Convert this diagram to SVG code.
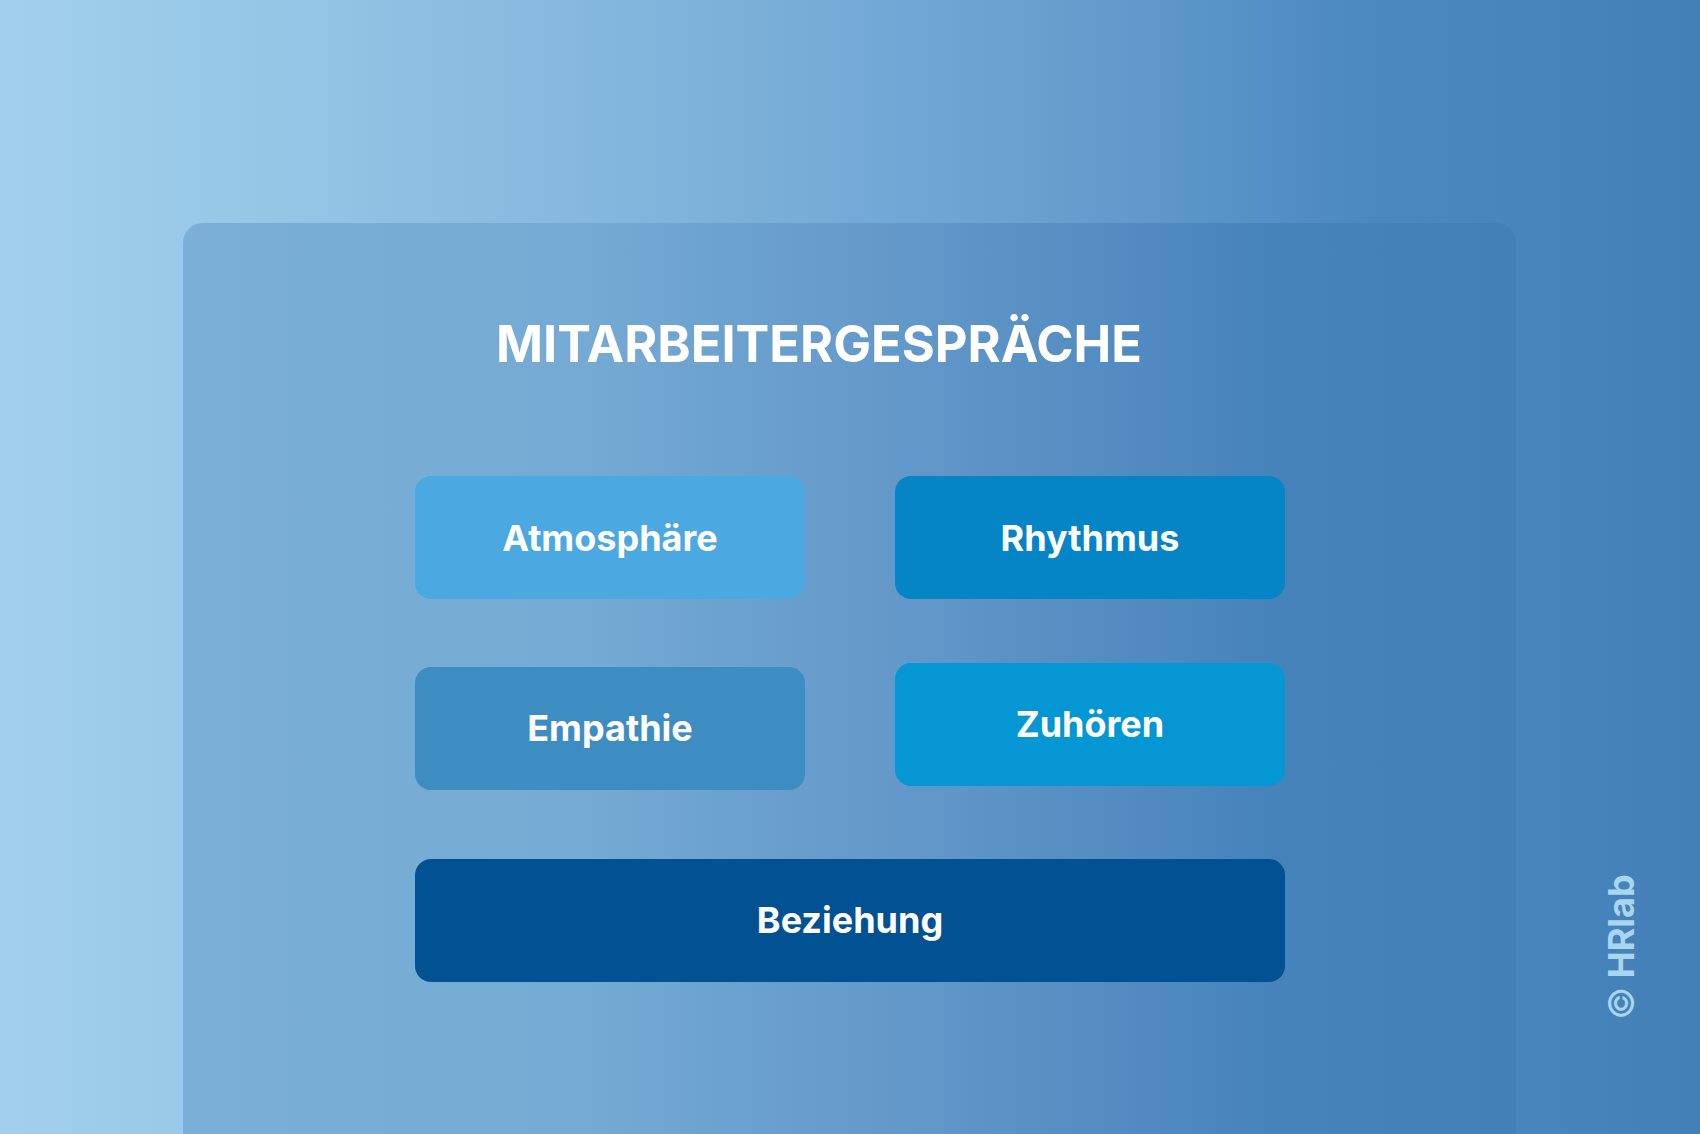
<svg xmlns="http://www.w3.org/2000/svg" width="1700" height="1134" viewBox="0 0 1700 1134">
  <defs>
    <linearGradient id="bg" x1="0" y1="0" x2="1700" y2="0" gradientUnits="userSpaceOnUse">
      <stop offset="0" stop-color="#A2D0EC"/>
      <stop offset="0.16" stop-color="#95C6E6"/>
      <stop offset="0.38" stop-color="#82B5DC"/>
      <stop offset="0.64" stop-color="#649DCD"/>
      <stop offset="0.8" stop-color="#4C89C1"/>
      <stop offset="1" stop-color="#4380B8"/>
    </linearGradient>
    <linearGradient id="panel" x1="183" y1="0" x2="1516" y2="0" gradientUnits="userSpaceOnUse">
      <stop offset="0" stop-color="#7BAFD7"/>
      <stop offset="0.3" stop-color="#74AAD3"/>
      <stop offset="0.55" stop-color="#6297C9"/>
      <stop offset="0.82" stop-color="#4683BB"/>
      <stop offset="1" stop-color="#4380B8"/>
    </linearGradient>
    <style>
      .lbl { font-family: Inter, "Liberation Sans", sans-serif; font-weight: 700; font-size: 36px; fill: #FFFFFF; text-anchor: middle; }
      .title { font-family: Inter, "Liberation Sans", sans-serif; font-weight: 700; font-size: 50.5px; fill: #FFFFFF; }
      .copy { font-family: Inter, "Liberation Sans", sans-serif; font-weight: 700; font-size: 36px; fill: #A9D5EF; text-anchor: middle; }
    </style>
  </defs>
  <rect x="0" y="0" width="1700" height="1134" fill="url(#bg)"/>
  <rect id="panel-bg" x="183" y="223" width="1333" height="940" rx="20" ry="20" fill="url(#panel)"/>
  <text id="title" class="title" x="496" y="362">MITARBEITERGESPRÄCHE</text>

  <g id="node-atmosphaere">
    <rect x="415" y="476" width="390" height="123" rx="16" fill="#4BA8E1"/>
    <text class="lbl" x="610" y="551">Atmosphäre</text>
  </g>
  <g id="node-rhythmus">
    <rect x="895" y="476" width="390" height="123" rx="16" fill="#0585C5"/>
    <text class="lbl" x="1090" y="551">Rhythmus</text>
  </g>
  <g id="node-empathie">
    <rect x="415" y="667" width="390" height="123" rx="16" fill="#3D8DC2"/>
    <text class="lbl" x="610" y="741">Empathie</text>
  </g>
  <g id="node-zuhoeren">
    <rect x="895" y="663" width="390" height="123" rx="16" fill="#0497D3"/>
    <text class="lbl" x="1090" y="737">Zuhören</text>
  </g>
  <g id="node-beziehung">
    <rect x="415" y="859" width="870" height="123" rx="16" fill="#025193"/>
    <text class="lbl" x="850" y="933">Beziehung</text>
  </g>
  <g id="connectors"/>
  <text id="copyright" class="copy" transform="translate(1634 947) rotate(-90)" x="0" y="0"><tspan font-weight="400">©</tspan> HRlab</text>
</svg>
